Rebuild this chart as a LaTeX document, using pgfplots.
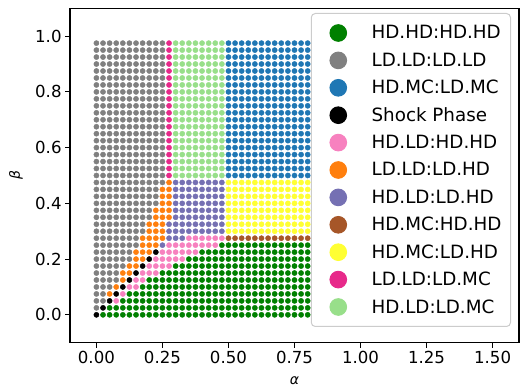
\documentclass[border=0pt]{standalone}
\usepackage{pgfplots}
\pgfplotsset{compat=1.18}
\usepackage{fontspec}
\setmainfont{DejaVu Sans}
\definecolor{cgreen}{RGB}{0,128,0}
\definecolor{cgray}{RGB}{128,128,128}
\definecolor{cblue}{RGB}{31,119,180}
\definecolor{cpink}{RGB}{247,129,191}
\definecolor{corange}{RGB}{255,127,14}
\definecolor{cpurple}{RGB}{117,112,179}
\definecolor{cbrown}{RGB}{166,86,40}
\definecolor{cyellow}{RGB}{255,255,51}
\definecolor{cmagenta}{RGB}{231,41,138}
\definecolor{clgreen}{RGB}{152,223,138}
\definecolor{cframe}{RGB}{204,204,204}
\pgfplotsset{dots/.style={only marks, mark=*, mark size=2.6pt, color=#1}}
\begin{document}
\begin{tikzpicture}
\useasboundingbox (0,0) rectangle (520pt,388pt);
\begin{axis}[
  at={(70pt,45.3pt)}, anchor=south west,
  scale only axis, width=449pt, height=334.4pt,
  xmin=-0.1, xmax=1.6, ymin=-0.1, ymax=1.1,
  xtick={0,0.25,0.5,0.75,1,1.25,1.5},
  xticklabels={0.00,0.25,0.50,0.75,1.00,1.25,1.50},
  ytick={0,0.2,0.4,0.6,0.8,1},
  yticklabels={0.0,0.2,0.4,0.6,0.8,1.0},
  tick pos=left, tick align=outside,
  major tick length=4.9pt,
  tick style={black, line width=1.1pt},
  axis line style={line width=1.1pt},
  tick label style={font=\fontsize{16.6pt}{20pt}\selectfont},
  xlabel={\itshape α}, ylabel={\itshape β},
  every axis x label/.style={at={(axis description cs:0.5,-0.114)}, anchor=center},
  every axis y label/.style={at={(axis description cs:-0.1205,0.5)}, anchor=center, rotate=90},
  label style={font=\fontsize{14pt}{17pt}\selectfont},
  legend cell align=left,
  legend style={at={(1,1)}, anchor=north east, xshift=-8pt, yshift=-4.7pt,
    draw=cframe, line width=1pt, rounded corners=4pt, fill=white,
    inner xsep=9pt, inner ysep=11.2pt, row sep=10.8pt, column sep=25pt,
    font=\fontsize{18.3pt}{22pt}\selectfont,
    nodes={inner sep=0pt}},
  legend image code/.code={\path[draw=none,fill=none] (-18pt,-1pt) rectangle (8.3pt,1pt); \draw[#1, mark size=8.3pt] plot coordinates {(0pt,0pt)};},
]
% HD.HD:HD.HD
\addplot[dots=cgreen] coordinates {
(0.025,0) (0.05,0) (0.075,0) (0.1,0) (0.125,0) (0.15,0) (0.175,0) (0.2,0) (0.225,0) (0.25,0) (0.275,0) (0.3,0) (0.325,0) (0.35,0) (0.375,0) (0.4,0) (0.425,0) (0.45,0) (0.475,0) (0.5,0) (0.525,0) (0.55,0) (0.575,0) (0.6,0) (0.625,0) (0.65,0) (0.675,0) (0.7,0) (0.725,0) (0.75,0) (0.775,0) (0.8,0) (0.825,0) (0.85,0) (0.875,0) (0.9,0) (0.925,0) (0.95,0) (0.975,0)
(0.05,0.025) (0.075,0.025) (0.1,0.025) (0.125,0.025) (0.15,0.025) (0.175,0.025) (0.2,0.025) (0.225,0.025) (0.25,0.025) (0.275,0.025) (0.3,0.025) (0.325,0.025) (0.35,0.025) (0.375,0.025) (0.4,0.025) (0.425,0.025) (0.45,0.025) (0.475,0.025) (0.5,0.025) (0.525,0.025) (0.55,0.025) (0.575,0.025) (0.6,0.025) (0.625,0.025) (0.65,0.025) (0.675,0.025) (0.7,0.025) (0.725,0.025) (0.75,0.025) (0.775,0.025) (0.8,0.025) (0.825,0.025) (0.85,0.025) (0.875,0.025) (0.9,0.025) (0.925,0.025) (0.95,0.025) (0.975,0.025)
(0.1,0.05) (0.125,0.05) (0.15,0.05) (0.175,0.05) (0.2,0.05) (0.225,0.05) (0.25,0.05) (0.275,0.05) (0.3,0.05) (0.325,0.05) (0.35,0.05) (0.375,0.05) (0.4,0.05) (0.425,0.05) (0.45,0.05) (0.475,0.05) (0.5,0.05) (0.525,0.05) (0.55,0.05) (0.575,0.05) (0.6,0.05) (0.625,0.05) (0.65,0.05) (0.675,0.05) (0.7,0.05) (0.725,0.05) (0.75,0.05) (0.775,0.05) (0.8,0.05) (0.825,0.05) (0.85,0.05) (0.875,0.05) (0.9,0.05) (0.925,0.05) (0.95,0.05) (0.975,0.05)
(0.125,0.075) (0.15,0.075) (0.175,0.075) (0.2,0.075) (0.225,0.075) (0.25,0.075) (0.275,0.075) (0.3,0.075) (0.325,0.075) (0.35,0.075) (0.375,0.075) (0.4,0.075) (0.425,0.075) (0.45,0.075) (0.475,0.075) (0.5,0.075) (0.525,0.075) (0.55,0.075) (0.575,0.075) (0.6,0.075) (0.625,0.075) (0.65,0.075) (0.675,0.075) (0.7,0.075) (0.725,0.075) (0.75,0.075) (0.775,0.075) (0.8,0.075) (0.825,0.075) (0.85,0.075) (0.875,0.075) (0.9,0.075) (0.925,0.075) (0.95,0.075) (0.975,0.075)
(0.175,0.1) (0.2,0.1) (0.225,0.1) (0.25,0.1) (0.275,0.1) (0.3,0.1) (0.325,0.1) (0.35,0.1) (0.375,0.1) (0.4,0.1) (0.425,0.1) (0.45,0.1) (0.475,0.1) (0.5,0.1) (0.525,0.1) (0.55,0.1) (0.575,0.1) (0.6,0.1) (0.625,0.1) (0.65,0.1) (0.675,0.1) (0.7,0.1) (0.725,0.1) (0.75,0.1) (0.775,0.1) (0.8,0.1) (0.825,0.1) (0.85,0.1) (0.875,0.1) (0.9,0.1) (0.925,0.1) (0.95,0.1) (0.975,0.1)
(0.2,0.125) (0.225,0.125) (0.25,0.125) (0.275,0.125) (0.3,0.125) (0.325,0.125) (0.35,0.125) (0.375,0.125) (0.4,0.125) (0.425,0.125) (0.45,0.125) (0.475,0.125) (0.5,0.125) (0.525,0.125) (0.55,0.125) (0.575,0.125) (0.6,0.125) (0.625,0.125) (0.65,0.125) (0.675,0.125) (0.7,0.125) (0.725,0.125) (0.75,0.125) (0.775,0.125) (0.8,0.125) (0.825,0.125) (0.85,0.125) (0.875,0.125) (0.9,0.125) (0.925,0.125) (0.95,0.125) (0.975,0.125)
(0.25,0.15) (0.275,0.15) (0.3,0.15) (0.325,0.15) (0.35,0.15) (0.375,0.15) (0.4,0.15) (0.425,0.15) (0.45,0.15) (0.475,0.15) (0.5,0.15) (0.525,0.15) (0.55,0.15) (0.575,0.15) (0.6,0.15) (0.625,0.15) (0.65,0.15) (0.675,0.15) (0.7,0.15) (0.725,0.15) (0.75,0.15) (0.775,0.15) (0.8,0.15) (0.825,0.15) (0.85,0.15) (0.875,0.15) (0.9,0.15) (0.925,0.15) (0.95,0.15) (0.975,0.15)
(0.3,0.175) (0.325,0.175) (0.35,0.175) (0.375,0.175) (0.4,0.175) (0.425,0.175) (0.45,0.175) (0.475,0.175) (0.5,0.175) (0.525,0.175) (0.55,0.175) (0.575,0.175) (0.6,0.175) (0.625,0.175) (0.65,0.175) (0.675,0.175) (0.7,0.175) (0.725,0.175) (0.75,0.175) (0.775,0.175) (0.8,0.175) (0.825,0.175) (0.85,0.175) (0.875,0.175) (0.9,0.175) (0.925,0.175) (0.95,0.175) (0.975,0.175)
(0.35,0.2) (0.375,0.2) (0.4,0.2) (0.425,0.2) (0.45,0.2) (0.475,0.2) (0.5,0.2) (0.525,0.2) (0.55,0.2) (0.575,0.2) (0.6,0.2) (0.625,0.2) (0.65,0.2) (0.675,0.2) (0.7,0.2) (0.725,0.2) (0.75,0.2) (0.775,0.2) (0.8,0.2) (0.825,0.2) (0.85,0.2) (0.875,0.2) (0.9,0.2) (0.925,0.2) (0.95,0.2) (0.975,0.2)
(0.4,0.225) (0.425,0.225) (0.45,0.225) (0.475,0.225) (0.5,0.225) (0.525,0.225) (0.55,0.225) (0.575,0.225) (0.6,0.225) (0.625,0.225) (0.65,0.225) (0.675,0.225) (0.7,0.225) (0.725,0.225) (0.75,0.225) (0.775,0.225) (0.8,0.225) (0.825,0.225) (0.85,0.225) (0.875,0.225) (0.9,0.225) (0.925,0.225) (0.95,0.225) (0.975,0.225)
(0.475,0.25) (0.5,0.25) (0.525,0.25) (0.55,0.25) (0.575,0.25) (0.6,0.25) (0.625,0.25) (0.65,0.25) (0.675,0.25) (0.7,0.25) (0.725,0.25) (0.75,0.25) (0.775,0.25) (0.8,0.25) (0.825,0.25) (0.85,0.25) (0.875,0.25) (0.9,0.25) (0.925,0.25) (0.95,0.25) (0.975,0.25)
};
\addlegendentry{HD.HD:HD.HD}
% LD.LD:LD.LD
\addplot[dots=cgray] coordinates {
(0,0.025)
(0,0.05) (0.025,0.05)
(0,0.075) (0.025,0.075)
(0,0.1) (0.025,0.1) (0.05,0.1)
(0,0.125) (0.025,0.125) (0.05,0.125) (0.075,0.125)
(0,0.15) (0.025,0.15) (0.05,0.15) (0.075,0.15)
(0,0.175) (0.025,0.175) (0.05,0.175) (0.075,0.175) (0.1,0.175)
(0,0.2) (0.025,0.2) (0.05,0.2) (0.075,0.2) (0.1,0.2) (0.125,0.2)
(0,0.225) (0.025,0.225) (0.05,0.225) (0.075,0.225) (0.1,0.225) (0.125,0.225)
(0,0.25) (0.025,0.25) (0.05,0.25) (0.075,0.25) (0.1,0.25) (0.125,0.25) (0.15,0.25)
(0,0.275) (0.025,0.275) (0.05,0.275) (0.075,0.275) (0.1,0.275) (0.125,0.275) (0.15,0.275)
(0,0.3) (0.025,0.3) (0.05,0.3) (0.075,0.3) (0.1,0.3) (0.125,0.3) (0.15,0.3) (0.175,0.3)
(0,0.325) (0.025,0.325) (0.05,0.325) (0.075,0.325) (0.1,0.325) (0.125,0.325) (0.15,0.325) (0.175,0.325)
(0,0.35) (0.025,0.35) (0.05,0.35) (0.075,0.35) (0.1,0.35) (0.125,0.35) (0.15,0.35) (0.175,0.35) (0.2,0.35)
(0,0.375) (0.025,0.375) (0.05,0.375) (0.075,0.375) (0.1,0.375) (0.125,0.375) (0.15,0.375) (0.175,0.375) (0.2,0.375)
(0,0.4) (0.025,0.4) (0.05,0.4) (0.075,0.4) (0.1,0.4) (0.125,0.4) (0.15,0.4) (0.175,0.4) (0.2,0.4) (0.225,0.4)
(0,0.425) (0.025,0.425) (0.05,0.425) (0.075,0.425) (0.1,0.425) (0.125,0.425) (0.15,0.425) (0.175,0.425) (0.2,0.425) (0.225,0.425)
(0,0.45) (0.025,0.45) (0.05,0.45) (0.075,0.45) (0.1,0.45) (0.125,0.45) (0.15,0.45) (0.175,0.45) (0.2,0.45) (0.225,0.45)
(0,0.475) (0.025,0.475) (0.05,0.475) (0.075,0.475) (0.1,0.475) (0.125,0.475) (0.15,0.475) (0.175,0.475) (0.2,0.475) (0.225,0.475) (0.25,0.475)
(0,0.5) (0.025,0.5) (0.05,0.5) (0.075,0.5) (0.1,0.5) (0.125,0.5) (0.15,0.5) (0.175,0.5) (0.2,0.5) (0.225,0.5) (0.25,0.5)
(0,0.525) (0.025,0.525) (0.05,0.525) (0.075,0.525) (0.1,0.525) (0.125,0.525) (0.15,0.525) (0.175,0.525) (0.2,0.525) (0.225,0.525) (0.25,0.525)
(0,0.55) (0.025,0.55) (0.05,0.55) (0.075,0.55) (0.1,0.55) (0.125,0.55) (0.15,0.55) (0.175,0.55) (0.2,0.55) (0.225,0.55) (0.25,0.55)
(0,0.575) (0.025,0.575) (0.05,0.575) (0.075,0.575) (0.1,0.575) (0.125,0.575) (0.15,0.575) (0.175,0.575) (0.2,0.575) (0.225,0.575) (0.25,0.575)
(0,0.6) (0.025,0.6) (0.05,0.6) (0.075,0.6) (0.1,0.6) (0.125,0.6) (0.15,0.6) (0.175,0.6) (0.2,0.6) (0.225,0.6) (0.25,0.6)
(0,0.625) (0.025,0.625) (0.05,0.625) (0.075,0.625) (0.1,0.625) (0.125,0.625) (0.15,0.625) (0.175,0.625) (0.2,0.625) (0.225,0.625) (0.25,0.625)
(0,0.65) (0.025,0.65) (0.05,0.65) (0.075,0.65) (0.1,0.65) (0.125,0.65) (0.15,0.65) (0.175,0.65) (0.2,0.65) (0.225,0.65) (0.25,0.65)
(0,0.675) (0.025,0.675) (0.05,0.675) (0.075,0.675) (0.1,0.675) (0.125,0.675) (0.15,0.675) (0.175,0.675) (0.2,0.675) (0.225,0.675) (0.25,0.675)
(0,0.7) (0.025,0.7) (0.05,0.7) (0.075,0.7) (0.1,0.7) (0.125,0.7) (0.15,0.7) (0.175,0.7) (0.2,0.7) (0.225,0.7) (0.25,0.7)
(0,0.725) (0.025,0.725) (0.05,0.725) (0.075,0.725) (0.1,0.725) (0.125,0.725) (0.15,0.725) (0.175,0.725) (0.2,0.725) (0.225,0.725) (0.25,0.725)
(0,0.75) (0.025,0.75) (0.05,0.75) (0.075,0.75) (0.1,0.75) (0.125,0.75) (0.15,0.75) (0.175,0.75) (0.2,0.75) (0.225,0.75) (0.25,0.75)
(0,0.775) (0.025,0.775) (0.05,0.775) (0.075,0.775) (0.1,0.775) (0.125,0.775) (0.15,0.775) (0.175,0.775) (0.2,0.775) (0.225,0.775) (0.25,0.775)
(0,0.8) (0.025,0.8) (0.05,0.8) (0.075,0.8) (0.1,0.8) (0.125,0.8) (0.15,0.8) (0.175,0.8) (0.2,0.8) (0.225,0.8) (0.25,0.8)
(0,0.825) (0.025,0.825) (0.05,0.825) (0.075,0.825) (0.1,0.825) (0.125,0.825) (0.15,0.825) (0.175,0.825) (0.2,0.825) (0.225,0.825) (0.25,0.825)
(0,0.85) (0.025,0.85) (0.05,0.85) (0.075,0.85) (0.1,0.85) (0.125,0.85) (0.15,0.85) (0.175,0.85) (0.2,0.85) (0.225,0.85) (0.25,0.85)
(0,0.875) (0.025,0.875) (0.05,0.875) (0.075,0.875) (0.1,0.875) (0.125,0.875) (0.15,0.875) (0.175,0.875) (0.2,0.875) (0.225,0.875) (0.25,0.875)
(0,0.9) (0.025,0.9) (0.05,0.9) (0.075,0.9) (0.1,0.9) (0.125,0.9) (0.15,0.9) (0.175,0.9) (0.2,0.9) (0.225,0.9) (0.25,0.9)
(0,0.925) (0.025,0.925) (0.05,0.925) (0.075,0.925) (0.1,0.925) (0.125,0.925) (0.15,0.925) (0.175,0.925) (0.2,0.925) (0.225,0.925) (0.25,0.925)
(0,0.95) (0.025,0.95) (0.05,0.95) (0.075,0.95) (0.1,0.95) (0.125,0.95) (0.15,0.95) (0.175,0.95) (0.2,0.95) (0.225,0.95) (0.25,0.95)
(0,0.975) (0.025,0.975) (0.05,0.975) (0.075,0.975) (0.1,0.975) (0.125,0.975) (0.15,0.975) (0.175,0.975) (0.2,0.975) (0.225,0.975) (0.25,0.975)
};
\addlegendentry{LD.LD:LD.LD}
% HD.MC:LD.MC
\addplot[dots=cblue] coordinates {
(0.5,0.5) (0.525,0.5) (0.55,0.5) (0.575,0.5) (0.6,0.5) (0.625,0.5) (0.65,0.5) (0.675,0.5) (0.7,0.5) (0.725,0.5) (0.75,0.5) (0.775,0.5) (0.8,0.5) (0.825,0.5) (0.85,0.5) (0.875,0.5) (0.9,0.5) (0.925,0.5) (0.95,0.5) (0.975,0.5)
(0.5,0.525) (0.525,0.525) (0.55,0.525) (0.575,0.525) (0.6,0.525) (0.625,0.525) (0.65,0.525) (0.675,0.525) (0.7,0.525) (0.725,0.525) (0.75,0.525) (0.775,0.525) (0.8,0.525) (0.825,0.525) (0.85,0.525) (0.875,0.525) (0.9,0.525) (0.925,0.525) (0.95,0.525) (0.975,0.525)
(0.5,0.55) (0.525,0.55) (0.55,0.55) (0.575,0.55) (0.6,0.55) (0.625,0.55) (0.65,0.55) (0.675,0.55) (0.7,0.55) (0.725,0.55) (0.75,0.55) (0.775,0.55) (0.8,0.55) (0.825,0.55) (0.85,0.55) (0.875,0.55) (0.9,0.55) (0.925,0.55) (0.95,0.55) (0.975,0.55)
(0.5,0.575) (0.525,0.575) (0.55,0.575) (0.575,0.575) (0.6,0.575) (0.625,0.575) (0.65,0.575) (0.675,0.575) (0.7,0.575) (0.725,0.575) (0.75,0.575) (0.775,0.575) (0.8,0.575) (0.825,0.575) (0.85,0.575) (0.875,0.575) (0.9,0.575) (0.925,0.575) (0.95,0.575) (0.975,0.575)
(0.5,0.6) (0.525,0.6) (0.55,0.6) (0.575,0.6) (0.6,0.6) (0.625,0.6) (0.65,0.6) (0.675,0.6) (0.7,0.6) (0.725,0.6) (0.75,0.6) (0.775,0.6) (0.8,0.6) (0.825,0.6) (0.85,0.6) (0.875,0.6) (0.9,0.6) (0.925,0.6) (0.95,0.6) (0.975,0.6)
(0.5,0.625) (0.525,0.625) (0.55,0.625) (0.575,0.625) (0.6,0.625) (0.625,0.625) (0.65,0.625) (0.675,0.625) (0.7,0.625) (0.725,0.625) (0.75,0.625) (0.775,0.625) (0.8,0.625) (0.825,0.625) (0.85,0.625) (0.875,0.625) (0.9,0.625) (0.925,0.625) (0.95,0.625) (0.975,0.625)
(0.5,0.65) (0.525,0.65) (0.55,0.65) (0.575,0.65) (0.6,0.65) (0.625,0.65) (0.65,0.65) (0.675,0.65) (0.7,0.65) (0.725,0.65) (0.75,0.65) (0.775,0.65) (0.8,0.65) (0.825,0.65) (0.85,0.65) (0.875,0.65) (0.9,0.65) (0.925,0.65) (0.95,0.65) (0.975,0.65)
(0.5,0.675) (0.525,0.675) (0.55,0.675) (0.575,0.675) (0.6,0.675) (0.625,0.675) (0.65,0.675) (0.675,0.675) (0.7,0.675) (0.725,0.675) (0.75,0.675) (0.775,0.675) (0.8,0.675) (0.825,0.675) (0.85,0.675) (0.875,0.675) (0.9,0.675) (0.925,0.675) (0.95,0.675) (0.975,0.675)
(0.5,0.7) (0.525,0.7) (0.55,0.7) (0.575,0.7) (0.6,0.7) (0.625,0.7) (0.65,0.7) (0.675,0.7) (0.7,0.7) (0.725,0.7) (0.75,0.7) (0.775,0.7) (0.8,0.7) (0.825,0.7) (0.85,0.7) (0.875,0.7) (0.9,0.7) (0.925,0.7) (0.95,0.7) (0.975,0.7)
(0.5,0.725) (0.525,0.725) (0.55,0.725) (0.575,0.725) (0.6,0.725) (0.625,0.725) (0.65,0.725) (0.675,0.725) (0.7,0.725) (0.725,0.725) (0.75,0.725) (0.775,0.725) (0.8,0.725) (0.825,0.725) (0.85,0.725) (0.875,0.725) (0.9,0.725) (0.925,0.725) (0.95,0.725) (0.975,0.725)
(0.5,0.75) (0.525,0.75) (0.55,0.75) (0.575,0.75) (0.6,0.75) (0.625,0.75) (0.65,0.75) (0.675,0.75) (0.7,0.75) (0.725,0.75) (0.75,0.75) (0.775,0.75) (0.8,0.75) (0.825,0.75) (0.85,0.75) (0.875,0.75) (0.9,0.75) (0.925,0.75) (0.95,0.75) (0.975,0.75)
(0.5,0.775) (0.525,0.775) (0.55,0.775) (0.575,0.775) (0.6,0.775) (0.625,0.775) (0.65,0.775) (0.675,0.775) (0.7,0.775) (0.725,0.775) (0.75,0.775) (0.775,0.775) (0.8,0.775) (0.825,0.775) (0.85,0.775) (0.875,0.775) (0.9,0.775) (0.925,0.775) (0.95,0.775) (0.975,0.775)
(0.5,0.8) (0.525,0.8) (0.55,0.8) (0.575,0.8) (0.6,0.8) (0.625,0.8) (0.65,0.8) (0.675,0.8) (0.7,0.8) (0.725,0.8) (0.75,0.8) (0.775,0.8) (0.8,0.8) (0.825,0.8) (0.85,0.8) (0.875,0.8) (0.9,0.8) (0.925,0.8) (0.95,0.8) (0.975,0.8)
(0.5,0.825) (0.525,0.825) (0.55,0.825) (0.575,0.825) (0.6,0.825) (0.625,0.825) (0.65,0.825) (0.675,0.825) (0.7,0.825) (0.725,0.825) (0.75,0.825) (0.775,0.825) (0.8,0.825) (0.825,0.825) (0.85,0.825) (0.875,0.825) (0.9,0.825) (0.925,0.825) (0.95,0.825) (0.975,0.825)
(0.5,0.85) (0.525,0.85) (0.55,0.85) (0.575,0.85) (0.6,0.85) (0.625,0.85) (0.65,0.85) (0.675,0.85) (0.7,0.85) (0.725,0.85) (0.75,0.85) (0.775,0.85) (0.8,0.85) (0.825,0.85) (0.85,0.85) (0.875,0.85) (0.9,0.85) (0.925,0.85) (0.95,0.85) (0.975,0.85)
(0.5,0.875) (0.525,0.875) (0.55,0.875) (0.575,0.875) (0.6,0.875) (0.625,0.875) (0.65,0.875) (0.675,0.875) (0.7,0.875) (0.725,0.875) (0.75,0.875) (0.775,0.875) (0.8,0.875) (0.825,0.875) (0.85,0.875) (0.875,0.875) (0.9,0.875) (0.925,0.875) (0.95,0.875) (0.975,0.875)
(0.5,0.9) (0.525,0.9) (0.55,0.9) (0.575,0.9) (0.6,0.9) (0.625,0.9) (0.65,0.9) (0.675,0.9) (0.7,0.9) (0.725,0.9) (0.75,0.9) (0.775,0.9) (0.8,0.9) (0.825,0.9) (0.85,0.9) (0.875,0.9) (0.9,0.9) (0.925,0.9) (0.95,0.9) (0.975,0.9)
(0.5,0.925) (0.525,0.925) (0.55,0.925) (0.575,0.925) (0.6,0.925) (0.625,0.925) (0.65,0.925) (0.675,0.925) (0.7,0.925) (0.725,0.925) (0.75,0.925) (0.775,0.925) (0.8,0.925) (0.825,0.925) (0.85,0.925) (0.875,0.925) (0.9,0.925) (0.925,0.925) (0.95,0.925) (0.975,0.925)
(0.5,0.95) (0.525,0.95) (0.55,0.95) (0.575,0.95) (0.6,0.95) (0.625,0.95) (0.65,0.95) (0.675,0.95) (0.7,0.95) (0.725,0.95) (0.75,0.95) (0.775,0.95) (0.8,0.95) (0.825,0.95) (0.85,0.95) (0.875,0.95) (0.9,0.95) (0.925,0.95) (0.95,0.95) (0.975,0.95)
(0.5,0.975) (0.525,0.975) (0.55,0.975) (0.575,0.975) (0.6,0.975) (0.625,0.975) (0.65,0.975) (0.675,0.975) (0.7,0.975) (0.725,0.975) (0.75,0.975) (0.775,0.975) (0.8,0.975) (0.825,0.975) (0.85,0.975) (0.875,0.975) (0.9,0.975) (0.925,0.975) (0.95,0.975) (0.975,0.975)
};
\addlegendentry{HD.MC:LD.MC}
% Shock Phase
\addplot[dots=black] coordinates {
(0,0) (0.025,0.025) (0.05,0.05) (0.075,0.075) (0.1,0.1) (0.125,0.125) (0.15,0.15) (0.175,0.175) (0.2,0.2) (0.225,0.225)
};
\addlegendentry{Shock Phase}
% HD.LD:HD.HD
\addplot[dots=cpink] coordinates {
(0.075,0.05)
(0.1,0.075)
(0.125,0.1) (0.15,0.1)
(0.15,0.125) (0.175,0.125)
(0.175,0.15) (0.2,0.15) (0.225,0.15)
(0.2,0.175) (0.225,0.175) (0.25,0.175) (0.275,0.175)
(0.225,0.2) (0.25,0.2) (0.275,0.2) (0.3,0.2) (0.325,0.2)
(0.25,0.225) (0.275,0.225) (0.3,0.225) (0.325,0.225) (0.35,0.225) (0.375,0.225)
(0.275,0.25) (0.3,0.25) (0.325,0.25) (0.35,0.25) (0.375,0.25) (0.4,0.25) (0.425,0.25) (0.45,0.25)
(0.35,0.275) (0.375,0.275) (0.4,0.275) (0.425,0.275) (0.45,0.275) (0.475,0.275)
};
\addlegendentry{HD.LD:HD.HD}
% LD.LD:LD.HD
\addplot[dots=corange] coordinates {
(0.05,0.075)
(0.075,0.1)
(0.1,0.125)
(0.1,0.15) (0.125,0.15)
(0.125,0.175) (0.15,0.175)
(0.15,0.2) (0.175,0.2)
(0.15,0.225) (0.175,0.225) (0.2,0.225)
(0.175,0.25) (0.2,0.25) (0.225,0.25)
(0.175,0.275) (0.2,0.275) (0.225,0.275) (0.25,0.275)
(0.2,0.3) (0.225,0.3) (0.25,0.3)
(0.2,0.325) (0.225,0.325) (0.25,0.325)
(0.225,0.35) (0.25,0.35) (0.275,0.35)
(0.225,0.375) (0.25,0.375) (0.275,0.375)
(0.25,0.4) (0.275,0.4)
(0.25,0.425) (0.275,0.425)
(0.25,0.45) (0.275,0.45)
(0.275,0.475)
};
\addlegendentry{LD.LD:LD.HD}
% HD.LD:LD.HD
\addplot[dots=cpurple] coordinates {
(0.25,0.25)
(0.275,0.275) (0.3,0.275) (0.325,0.275)
(0.275,0.3) (0.3,0.3) (0.325,0.3) (0.35,0.3) (0.375,0.3) (0.4,0.3) (0.425,0.3) (0.45,0.3) (0.475,0.3)
(0.275,0.325) (0.3,0.325) (0.325,0.325) (0.35,0.325) (0.375,0.325) (0.4,0.325) (0.425,0.325) (0.45,0.325) (0.475,0.325)
(0.3,0.35) (0.325,0.35) (0.35,0.35) (0.375,0.35) (0.4,0.35) (0.425,0.35) (0.45,0.35) (0.475,0.35)
(0.3,0.375) (0.325,0.375) (0.35,0.375) (0.375,0.375) (0.4,0.375) (0.425,0.375) (0.45,0.375) (0.475,0.375)
(0.3,0.4) (0.325,0.4) (0.35,0.4) (0.375,0.4) (0.4,0.4) (0.425,0.4) (0.45,0.4) (0.475,0.4)
(0.3,0.425) (0.325,0.425) (0.35,0.425) (0.375,0.425) (0.4,0.425) (0.425,0.425) (0.45,0.425) (0.475,0.425)
(0.3,0.45) (0.325,0.45) (0.35,0.45) (0.375,0.45) (0.4,0.45) (0.425,0.45) (0.45,0.45) (0.475,0.45)
(0.3,0.475) (0.325,0.475) (0.35,0.475) (0.375,0.475) (0.4,0.475) (0.425,0.475) (0.45,0.475) (0.475,0.475)
};
\addlegendentry{HD.LD:LD.HD}
% HD.MC:HD.HD
\addplot[dots=cbrown] coordinates {
(0.5,0.275) (0.525,0.275) (0.55,0.275) (0.575,0.275) (0.6,0.275) (0.625,0.275) (0.65,0.275) (0.675,0.275) (0.7,0.275) (0.725,0.275) (0.75,0.275) (0.775,0.275) (0.8,0.275) (0.825,0.275) (0.85,0.275) (0.875,0.275) (0.9,0.275) (0.925,0.275) (0.95,0.275) (0.975,0.275)
};
\addlegendentry{HD.MC:HD.HD}
% HD.MC:LD.HD
\addplot[dots=cyellow] coordinates {
(0.5,0.3) (0.525,0.3) (0.55,0.3) (0.575,0.3) (0.6,0.3) (0.625,0.3) (0.65,0.3) (0.675,0.3) (0.7,0.3) (0.725,0.3) (0.75,0.3) (0.775,0.3) (0.8,0.3) (0.825,0.3) (0.85,0.3) (0.875,0.3) (0.9,0.3) (0.925,0.3) (0.95,0.3) (0.975,0.3)
(0.5,0.325) (0.525,0.325) (0.55,0.325) (0.575,0.325) (0.6,0.325) (0.625,0.325) (0.65,0.325) (0.675,0.325) (0.7,0.325) (0.725,0.325) (0.75,0.325) (0.775,0.325) (0.8,0.325) (0.825,0.325) (0.85,0.325) (0.875,0.325) (0.9,0.325) (0.925,0.325) (0.95,0.325) (0.975,0.325)
(0.5,0.35) (0.525,0.35) (0.55,0.35) (0.575,0.35) (0.6,0.35) (0.625,0.35) (0.65,0.35) (0.675,0.35) (0.7,0.35) (0.725,0.35) (0.75,0.35) (0.775,0.35) (0.8,0.35) (0.825,0.35) (0.85,0.35) (0.875,0.35) (0.9,0.35) (0.925,0.35) (0.95,0.35) (0.975,0.35)
(0.5,0.375) (0.525,0.375) (0.55,0.375) (0.575,0.375) (0.6,0.375) (0.625,0.375) (0.65,0.375) (0.675,0.375) (0.7,0.375) (0.725,0.375) (0.75,0.375) (0.775,0.375) (0.8,0.375) (0.825,0.375) (0.85,0.375) (0.875,0.375) (0.9,0.375) (0.925,0.375) (0.95,0.375) (0.975,0.375)
(0.5,0.4) (0.525,0.4) (0.55,0.4) (0.575,0.4) (0.6,0.4) (0.625,0.4) (0.65,0.4) (0.675,0.4) (0.7,0.4) (0.725,0.4) (0.75,0.4) (0.775,0.4) (0.8,0.4) (0.825,0.4) (0.85,0.4) (0.875,0.4) (0.9,0.4) (0.925,0.4) (0.95,0.4) (0.975,0.4)
(0.5,0.425) (0.525,0.425) (0.55,0.425) (0.575,0.425) (0.6,0.425) (0.625,0.425) (0.65,0.425) (0.675,0.425) (0.7,0.425) (0.725,0.425) (0.75,0.425) (0.775,0.425) (0.8,0.425) (0.825,0.425) (0.85,0.425) (0.875,0.425) (0.9,0.425) (0.925,0.425) (0.95,0.425) (0.975,0.425)
(0.5,0.45) (0.525,0.45) (0.55,0.45) (0.575,0.45) (0.6,0.45) (0.625,0.45) (0.65,0.45) (0.675,0.45) (0.7,0.45) (0.725,0.45) (0.75,0.45) (0.775,0.45) (0.8,0.45) (0.825,0.45) (0.85,0.45) (0.875,0.45) (0.9,0.45) (0.925,0.45) (0.95,0.45) (0.975,0.45)
(0.5,0.475) (0.525,0.475) (0.55,0.475) (0.575,0.475) (0.6,0.475) (0.625,0.475) (0.65,0.475) (0.675,0.475) (0.7,0.475) (0.725,0.475) (0.75,0.475) (0.775,0.475) (0.8,0.475) (0.825,0.475) (0.85,0.475) (0.875,0.475) (0.9,0.475) (0.925,0.475) (0.95,0.475) (0.975,0.475)
};
\addlegendentry{HD.MC:LD.HD}
% LD.LD:LD.MC
\addplot[dots=cmagenta] coordinates {
(0.275,0.5) (0.275,0.525) (0.275,0.55) (0.275,0.575) (0.275,0.6) (0.275,0.625) (0.275,0.65) (0.275,0.675) (0.275,0.7) (0.275,0.725) (0.275,0.75) (0.275,0.775) (0.275,0.8) (0.275,0.825) (0.275,0.85) (0.275,0.875) (0.275,0.9) (0.275,0.925) (0.275,0.95) (0.275,0.975)
};
\addlegendentry{LD.LD:LD.MC}
% HD.LD:LD.MC
\addplot[dots=clgreen] coordinates {
(0.3,0.5) (0.325,0.5) (0.35,0.5) (0.375,0.5) (0.4,0.5) (0.425,0.5) (0.45,0.5) (0.475,0.5)
(0.3,0.525) (0.325,0.525) (0.35,0.525) (0.375,0.525) (0.4,0.525) (0.425,0.525) (0.45,0.525) (0.475,0.525)
(0.3,0.55) (0.325,0.55) (0.35,0.55) (0.375,0.55) (0.4,0.55) (0.425,0.55) (0.45,0.55) (0.475,0.55)
(0.3,0.575) (0.325,0.575) (0.35,0.575) (0.375,0.575) (0.4,0.575) (0.425,0.575) (0.45,0.575) (0.475,0.575)
(0.3,0.6) (0.325,0.6) (0.35,0.6) (0.375,0.6) (0.4,0.6) (0.425,0.6) (0.45,0.6) (0.475,0.6)
(0.3,0.625) (0.325,0.625) (0.35,0.625) (0.375,0.625) (0.4,0.625) (0.425,0.625) (0.45,0.625) (0.475,0.625)
(0.3,0.65) (0.325,0.65) (0.35,0.65) (0.375,0.65) (0.4,0.65) (0.425,0.65) (0.45,0.65) (0.475,0.65)
(0.3,0.675) (0.325,0.675) (0.35,0.675) (0.375,0.675) (0.4,0.675) (0.425,0.675) (0.45,0.675) (0.475,0.675)
(0.3,0.7) (0.325,0.7) (0.35,0.7) (0.375,0.7) (0.4,0.7) (0.425,0.7) (0.45,0.7) (0.475,0.7)
(0.3,0.725) (0.325,0.725) (0.35,0.725) (0.375,0.725) (0.4,0.725) (0.425,0.725) (0.45,0.725) (0.475,0.725)
(0.3,0.75) (0.325,0.75) (0.35,0.75) (0.375,0.75) (0.4,0.75) (0.425,0.75) (0.45,0.75) (0.475,0.75)
(0.3,0.775) (0.325,0.775) (0.35,0.775) (0.375,0.775) (0.4,0.775) (0.425,0.775) (0.45,0.775) (0.475,0.775)
(0.3,0.8) (0.325,0.8) (0.35,0.8) (0.375,0.8) (0.4,0.8) (0.425,0.8) (0.45,0.8) (0.475,0.8)
(0.3,0.825) (0.325,0.825) (0.35,0.825) (0.375,0.825) (0.4,0.825) (0.425,0.825) (0.45,0.825) (0.475,0.825)
(0.3,0.85) (0.325,0.85) (0.35,0.85) (0.375,0.85) (0.4,0.85) (0.425,0.85) (0.45,0.85) (0.475,0.85)
(0.3,0.875) (0.325,0.875) (0.35,0.875) (0.375,0.875) (0.4,0.875) (0.425,0.875) (0.45,0.875) (0.475,0.875)
(0.3,0.9) (0.325,0.9) (0.35,0.9) (0.375,0.9) (0.4,0.9) (0.425,0.9) (0.45,0.9) (0.475,0.9)
(0.3,0.925) (0.325,0.925) (0.35,0.925) (0.375,0.925) (0.4,0.925) (0.425,0.925) (0.45,0.925) (0.475,0.925)
(0.3,0.95) (0.325,0.95) (0.35,0.95) (0.375,0.95) (0.4,0.95) (0.425,0.95) (0.45,0.95) (0.475,0.95)
(0.3,0.975) (0.325,0.975) (0.35,0.975) (0.375,0.975) (0.4,0.975) (0.425,0.975) (0.45,0.975) (0.475,0.975)
};
\addlegendentry{HD.LD:LD.MC}
\end{axis}
\end{tikzpicture}
\end{document}
